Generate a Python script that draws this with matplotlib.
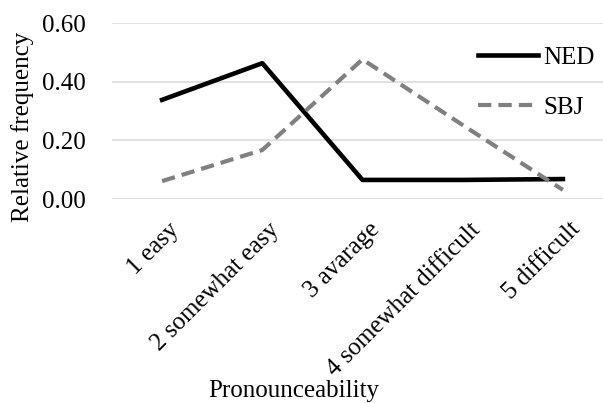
import matplotlib
matplotlib.use("Agg")
import matplotlib.pyplot as plt
from matplotlib.transforms import ScaledTranslation

categories = ["1 easy", "2 somewhat easy", "3 avarage", "4 somewhat difficult", "5 difficult"]
ned = [0.338, 0.463, 0.065, 0.065, 0.068]
sbj = [0.061, 0.167, 0.476, 0.252, 0.031]
yticks = [0.0, 0.2, 0.4, 0.6]

plt.rcParams["font.family"] = ["Liberation Serif", "DejaVu Serif"]
plt.rcParams["font.size"] = 18

W, H = 603, 403
fig = plt.figure(figsize=(W / 100, H / 100), dpi=100)
# plot area in pixels: left 112, top 23, bottom 199, 5 slots of ~100 px
ax = fig.add_axes([112 / W, 1 - 199 / H, 501 / W, 176 / H])

x = list(range(len(categories)))
ax.plot(x, ned, color="black", lw=3.3, label="NED", clip_on=False)
ax.plot(x, sbj, color="#808080", lw=3.0, ls=(0, (3.2, 1.7)), label="SBJ", clip_on=False)

ax.set_xlim(-0.5, 4.5)
ax.set_ylim(0, 0.6)
ax.set_yticks(yticks)
ax.set_yticklabels([f"{v:.2f}" for v in yticks])
ax.yaxis.grid(True, color="#d9d9d9", lw=1.1)
ax.set_axisbelow(True)
for s in ax.spines.values():
    s.set_visible(False)
ax.tick_params(axis="both", length=0)
ax.tick_params(axis="y", pad=19)

ax.set_xticks(x)
ax.set_xticklabels(categories, rotation=45, ha="right", va="top", rotation_mode="anchor")
ax.tick_params(axis="x", pad=14)
for lab in ax.get_xticklabels():
    lab.set_transform(lab.get_transform() + ScaledTranslation(6 / 100, 0, fig.dpi_scale_trans))

ax.set_ylabel("Relative frequency")
ax.yaxis.set_label_coords(23 / W, 1 - 127 / H, transform=fig.transFigure)
ax.yaxis.label.set_va("center")
ax.set_xlabel("Pronounceability", va="bottom")
ax.xaxis.set_label_coords(294 / W, 1 - 402 / H, transform=fig.transFigure)

ax.legend(loc="upper left", bbox_to_anchor=(478 / W, 1 - 46 / H), bbox_transform=fig.transFigure,
          frameon=False, handlelength=2.4, handletextpad=0.2, labelspacing=1.1,
          borderaxespad=0, borderpad=0)

fig.savefig("out.png", dpi=100)
